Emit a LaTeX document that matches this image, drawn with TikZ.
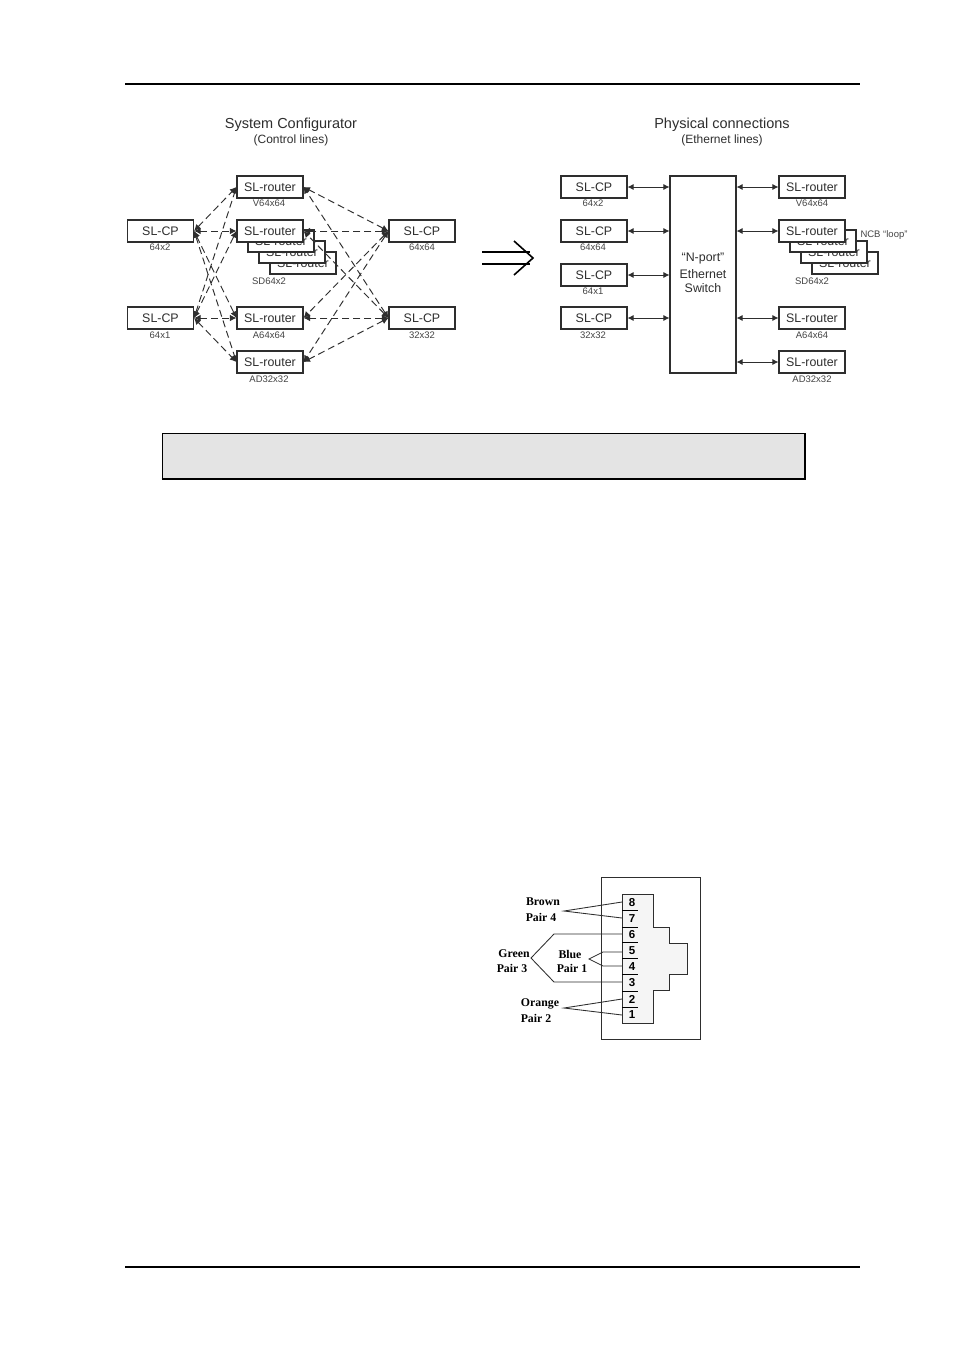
\documentclass[tikz,border=0pt]{standalone}
\usepackage{fontspec}
\setmainfont{Liberation Sans}
\newfontfamily\serifbold[Scale=1]{Liberation Serif}
\usetikzlibrary{arrows.meta}
\definecolor{ink}{HTML}{2E2E2E}
\definecolor{inksoft}{HTML}{444444}
\definecolor{capfill}{HTML}{E4E4E4}
\definecolor{plugfill}{HTML}{F5F5F5}
\tikzset{
  devbox/.style={draw=ink,line width=1.1pt,fill=white,minimum width=66pt,minimum height=22pt,inner sep=0pt,text=ink,font=\fontsize{12.4}{13}\selectfont},
  sublabel/.style={inner sep=0pt,text=inksoft,font=\fontsize{9.5}{10}\selectfont},
  ctl/.style={draw=ink,line width=.95pt,dash pattern=on 7pt off 4pt,{Latex[length=6.5pt,width=6.5pt]}-{Latex[length=6.5pt,width=6.5pt]}},
  eth/.style={draw=ink,line width=.85pt,{Latex[length=6pt,width=6pt]}-{Latex[length=6pt,width=6pt]}},
  titletext/.style={inner sep=0pt,text=ink,font=\fontsize{14.5}{15}\selectfont},
  subtitletext/.style={inner sep=0pt,text=ink,font=\fontsize{12}{13}\selectfont},
  pinno/.style={inner sep=0pt,text=black,font=\bfseries\fontsize{11.5}{12}\selectfont},
  pairtext/.style={inner sep=0pt,text=black,font=\serifbold\bfseries\fontsize{11.8}{12}\selectfont},
  wire/.style={draw=ink,line width=.85pt},
  pinrule/.style={draw=black,line width=.9pt},
}
\begin{document}
\begin{tikzpicture}[x=1pt,y=-1pt]
\useasboundingbox (0,0) rectangle (954,1350);
\fill[white] (0,0) rectangle (954,1350);
% page rules
\coordinate (ta) at (125,84); \coordinate (tb) at (860,84);
\coordinate (ba) at (125,1267); \coordinate (bb) at (860,1267);
\draw[line width=1.6pt,black] (ta) -- (tb);
\draw[line width=2.6pt,black] (ba) -- (bb);
% titles
\node[titletext] (t1) at (291,124.5) {System Configurator};
\node[subtitletext] (t1s) at (291,140.5) {(Control lines)};
\node[titletext] (t2) at (722,124.5) {Physical connections};
\node[subtitletext] (t2s) at (722,140.5) {(Ethernet lines)};
% left diagram
\node[devbox] (lcp1) at (160.5,231) {SL-CP};
\node[devbox] (lcp2) at (160.5,318) {SL-CP};
\node[devbox] (rcp1) at (422,231) {SL-CP};
\node[devbox] (rcp2) at (422,318) {SL-CP};
\node[devbox] (rv) at (270,187) {SL-router};
\node[devbox] (rs3) at (303,263) {SL-router};
\node[devbox] (rs2) at (292,252) {SL-router};
\node[devbox] (rs1) at (281,241) {SL-router};
\node[devbox] (rs) at (270,231) {SL-router};
\node[devbox] (ra) at (270,318) {SL-router};
\node[devbox] (rd) at (270,362) {SL-router};
\node[sublabel] (llcp1) at (160,247) {64x2};
\node[sublabel] (llcp2) at (160,335) {64x1};
\node[sublabel] (lrcp1) at (422,247) {64x64};
\node[sublabel] (lrcp2) at (422,335) {32x32};
\node[sublabel] (lrv) at (269,203) {V64x64};
\node[sublabel] (lrs) at (269,281) {SD64x2};
\node[sublabel] (lra) at (269,335) {A64x64};
\node[sublabel] (lrd) at (269,379) {AD32x32};
\foreach \r in {rv,rs,ra,rd}{
  \draw[ctl] (lcp1.east) -- (\r.west);
  \draw[ctl] (lcp2.east) -- (\r.west);
  \draw[ctl] (rcp1.west) -- (\r.east);
  \draw[ctl] (rcp2.west) -- (\r.east);
}
% big arrow
\coordinate (ba1) at (482,252); \coordinate (ba2) at (530,252);
\coordinate (bb1) at (482,264); \coordinate (bb2) at (530,264);
\coordinate (bh1) at (514,241); \coordinate (bh2) at (533,258); \coordinate (bh3) at (514,275);
\draw[line width=1.6pt,black] (ba1) -- (ba2);
\draw[line width=1.6pt,black] (bb1) -- (bb2);
\draw[line width=1.6pt,black] (bh1) -- (bh2) -- (bh3);
% right diagram
\node[devbox,minimum width=66pt,minimum height=197pt,align=center] (sw) at (703,274.5) {};
\node[inner sep=0pt,text=ink,font=\fontsize{12.4}{13}\selectfont] (sw1) at (703,259) {“N-port”};
\node[inner sep=0pt,text=ink,font=\fontsize{12.4}{13}\selectfont] (sw2) at (703,274) {Ethernet};
\node[inner sep=0pt,text=ink,font=\fontsize{12.4}{13}\selectfont] (sw3) at (703,288.5) {Switch};
\node[devbox] (pc1) at (594,187) {SL-CP};
\node[devbox] (pc2) at (594,231) {SL-CP};
\node[devbox] (pc3) at (594,275) {SL-CP};
\node[devbox] (pc4) at (594,318) {SL-CP};
\node[devbox] (qv) at (812,187) {SL-router};
\node[devbox] (qs3) at (845,263) {SL-router};
\node[devbox] (qs2) at (834,252) {SL-router};
\node[devbox] (qs1) at (823,241) {SL-router};
\node[devbox] (qs) at (812,231) {SL-router};
\node[devbox] (qa) at (812,318) {SL-router};
\node[devbox] (qd) at (812,362) {SL-router};
\node[sublabel] (lpc1) at (593,203) {64x2};
\node[sublabel] (lpc2) at (593,247) {64x64};
\node[sublabel] (lpc3) at (593,291) {64x1};
\node[sublabel] (lpc4) at (593,335) {32x32};
\node[sublabel] (lqv) at (812,203) {V64x64};
\node[sublabel] (lqs) at (812,281) {SD64x2};
\node[sublabel] (lqa) at (812,335) {A64x64};
\node[sublabel] (lqd) at (812,379) {AD32x32};
\node[sublabel] (ncb) at (884,235) {NCB “loop”};
\foreach \n in {pc1,pc2,pc3,pc4}{
  \draw[eth] (\n.east) -- (\n.east -| sw.west);
}
\foreach \n in {qv,qs,qa,qd}{
  \draw[eth] (\n.west -| sw.east) -- (\n.west);
}
% caption box
\node[draw=black,line width=.8pt,fill=capfill,minimum width=643pt,minimum height=46pt,inner sep=0pt] (cap) at (483.5,456) {};
\draw[black,line width=2pt] (cap.south west) -- (cap.south east) -- (cap.north east);
% connector
\node[draw=ink,line width=.8pt,fill=white,minimum width=99pt,minimum height=162pt,inner sep=0pt] (jack) at (650.5,958) {};
\draw[draw=ink,line width=.8pt,fill=plugfill]
  (622,894) -- (653,894) -- (653,927) -- (669,927) -- (669,943) -- (687,943)
  -- (687,974) -- (669,974) -- (669,990) -- (653,990) -- (653,1023) -- (622,1023) -- cycle;
\foreach \y in {910,927,942,958,974,991,1007}{
  \draw[pinrule] (622,\y) -- (638,\y);
}
\node[pinno] (p8) at (632,902.5) {8};
\node[pinno] (p7) at (632,918.5) {7};
\node[pinno] (p6) at (632,934.5) {6};
\node[pinno] (p5) at (632,950.5) {5};
\node[pinno] (p4) at (632,966.5) {4};
\node[pinno] (p3) at (632,982.5) {3};
\node[pinno] (p2) at (632,999) {2};
\node[pinno] (p1) at (632,1015) {1};
\coordinate (bra) at (564,911);
\coordinate (gra) at (531,958);
\coordinate (gra1) at (554,934);
\coordinate (gra2) at (554,982);
\coordinate (bla) at (589,959);
\coordinate (bla1) at (603,952);
\coordinate (bla2) at (603,966);
\coordinate (ora) at (564,1008);
\draw[wire] (622,902) -- (bra) -- (622,918);
\draw[wire] (622,934) -- (gra1) -- (gra) -- (gra2) -- (622,982);
\draw[wire] (622,952) -- (bla1) -- (bla) -- (bla2) -- (622,966);
\draw[wire] (622,999) -- (ora) -- (622,1015);
\node[pairtext] (bn) at (543,902) {Brown};
\node[pairtext] (bp) at (541,917) {Pair 4};
\node[pairtext] (gn) at (514,954) {Green};
\node[pairtext] (gp) at (512,968.5) {Pair 3};
\node[pairtext] (un) at (570,954) {Blue};
\node[pairtext] (up) at (572,968.5) {Pair 1};
\node[pairtext] (on) at (540,1004) {Orange};
\node[pairtext] (op) at (536,1018.5) {Pair 2};
\end{tikzpicture}
\end{document}
